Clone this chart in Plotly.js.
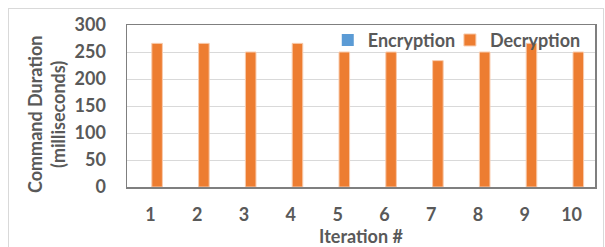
<!DOCTYPE html>
<html><head><meta charset="utf-8">
<script src="https://cdn.plot.ly/plotly-3.0.1.min.js"></script>
<style>
html,body{margin:0;padding:0;background:#fff;}
#frame{position:absolute;left:8px;top:8px;width:596px;height:260px;border:1px solid #d9d9d9;box-sizing:border-box;}
#chart{position:absolute;left:0;top:0;width:605px;height:247px;}
</style></head>
<body>
<div id="frame"></div>
<div id="chart"></div>
<script>
const iterations = ['1','2','3','4','5','6','7','8','9','10'];
const encryption = [0,0,0,0,0,0,0,0,0,0];
const decryption = [266,266,250,266,250,250,234,250,266,250];
const yTicks = [0,50,100,150,200,250,300];

const font = 'Lato, "Open Sans", sans-serif';
const gray = '#595959';
const lfont = {family:font, size:18, color:gray, weight:'bold'};

const traces = [
  {type:'bar', name:'Encryption', x:iterations, y:encryption, width:0.226, offset:-0.37,
   legend:'legend', marker:{color:'#5b9bd5', line:{color:'#9dc3e6', width:0}}},
  {type:'bar', name:'Decryption', x:iterations, y:decryption, width:0.226, offset:0.03,
   legend:'legend2', marker:{color:'#ed7d31', line:{color:'#f8cbad', width:1}}}
];

const layout = {
  width:605, height:247,
  margin:{l:127, r:10, t:25, b:60},
  paper_bgcolor:'rgba(0,0,0,0)', plot_bgcolor:'#fff',
  font:{family:font, color:gray, size:18, weight:'bold'},
  barmode:'group',
  showlegend:true,
  legend:{orientation:'h', x:0.429, xanchor:'left', y:1.02, yanchor:'top',
    bgcolor:'rgba(0,0,0,0)', font:lfont, itemwidth:30},
  legend2:{orientation:'h', x:0.690, xanchor:'left', y:1.02, yanchor:'top',
    bgcolor:'rgba(0,0,0,0)', font:lfont, itemwidth:30},
  xaxis:{type:'category', range:[-0.5,9.5], showline:true, mirror:true, linecolor:'#7f7f7f', linewidth:1.5,
    ticks:'outside', ticklen:11, tickcolor:'rgba(0,0,0,0)',
    tickfont:{family:font, size:18, color:gray, weight:'bold'},
    title:{text:'Iteration #', font:{family:font, size:18, color:gray, weight:'bold'}, standoff:4}},
  yaxis:{range:[0,300], tickvals:yTicks, showline:true, mirror:true, linecolor:'#7f7f7f', linewidth:1.5,
    gridcolor:'#d9d9d9', gridwidth:1, zeroline:false,
    ticks:'outside', ticklen:16, tickcolor:'rgba(0,0,0,0)',
    tickfont:{family:font, size:18, color:gray, weight:'bold'}},
  annotations:[
    {text:'Command Duration<br>(milliseconds)', xref:'paper', yref:'paper', x:0, y:0.444,
     xanchor:'center', yanchor:'middle', xshift:-81, textangle:-90, showarrow:false,
     font:{family:font, size:18, color:gray, weight:'bold'}}
  ]
};

Plotly.newPlot('chart', traces, layout, {displayModeBar:false, staticPlot:true});
</script>
</body></html>
